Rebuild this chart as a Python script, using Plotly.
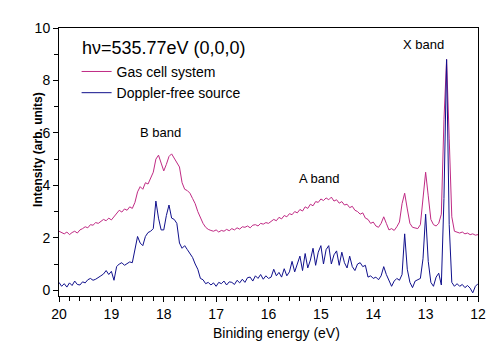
import numpy as np
import plotly.graph_objects as go

# Binding energy grid (eV), 20.00 -> 12.00 in 0.05 steps
energy = np.round(np.arange(20.0, 11.999, -0.05), 2)

gas_cell = [
    2.25, 2.20, 2.15, 2.22, 2.12, 2.20, 2.25, 2.18, 2.30, 2.35,
    2.42, 2.38, 2.50, 2.48, 2.58, 2.55, 2.62, 2.70, 2.65, 2.75,
    2.68, 2.80, 2.92, 3.05, 2.98, 3.10, 3.05, 3.18, 3.12, 3.35,
    3.75, 3.95, 3.85, 4.10, 4.05, 4.25, 4.50, 5.00, 5.15, 4.85,
    4.55, 4.80, 5.10, 5.20, 5.05, 4.90, 4.70, 4.10, 3.85, 3.80,
    3.70, 3.50, 3.30, 3.00, 2.75, 2.55, 2.40, 2.32, 2.28, 2.25,
    2.30, 2.22, 2.28, 2.25, 2.32, 2.27, 2.35, 2.30, 2.38, 2.33,
    2.42, 2.40, 2.45, 2.38, 2.48, 2.50, 2.45, 2.55, 2.52, 2.58,
    2.55, 2.62, 2.70, 2.65, 2.78, 2.72, 2.85, 2.80, 2.92, 2.88,
    3.00, 2.95, 3.08, 3.02, 3.18, 3.12, 3.28, 3.22, 3.38, 3.35,
    3.48, 3.42, 3.52, 3.45, 3.55, 3.40, 3.45, 3.32, 3.38, 3.25,
    3.28, 3.15, 3.20, 3.05, 3.00, 2.90, 2.95, 2.75, 2.70, 2.55,
    2.60, 2.45, 2.40, 2.55, 2.80, 2.55, 2.30, 2.35, 2.28, 2.42,
    2.60, 3.30, 3.70, 3.10, 2.55, 2.40, 2.38, 2.35, 2.50, 3.40,
    4.50, 3.60, 2.70, 2.50, 2.45, 2.55, 2.90, 6.50, 8.80, 5.80,
    2.80, 2.25, 2.20, 2.18, 2.22, 2.15, 2.18, 2.12, 2.15, 2.10,
    2.12,
]

doppler_free = [
    0.30, 0.15, 0.25, 0.12, 0.28, 0.18, 0.35, 0.22, 0.20, 0.32,
    0.28, 0.40, 0.45, 0.38, 0.42, 0.50, 0.55, 0.62, 0.75, 0.60,
    0.72, 0.38, 0.90, 1.00, 1.05, 0.95, 1.02, 1.08, 1.05, 1.55,
    2.05, 1.80, 1.70, 2.05, 2.20, 2.25, 2.35, 3.40, 2.75, 2.30,
    2.30, 2.85, 3.25, 2.75, 2.70, 2.55, 1.80, 1.60, 1.70, 1.55,
    1.40, 1.25, 1.00, 0.80, 0.45, 0.40, 0.25, 0.30, 0.20, 0.28,
    0.15, 0.30, 0.25, 0.35, 0.20, 0.32, 0.30, 0.22, 0.38, 0.28,
    0.42, 0.30, 0.48, 0.50, 0.35, 0.55, 0.45, 0.60, 0.42, 0.55,
    0.45, 0.50, 0.80, 0.55, 0.68, 0.50, 0.82, 0.55, 0.70, 1.10,
    0.70, 1.00, 1.30, 0.75, 1.40, 0.85, 1.15, 1.60, 0.95, 1.45,
    1.70, 1.00, 1.55, 1.70, 1.00, 1.35, 1.50, 0.95, 1.45, 1.05,
    0.85, 1.30, 0.90, 0.75, 1.00, 1.05, 0.90, 0.95, 0.50, 0.55,
    0.45, 0.50, 0.40, 0.55, 0.90, 0.60, 0.40, 0.15, 0.35, 0.45,
    0.38, 0.60, 2.15, 0.80, 0.30, 0.10, 0.35, 0.40, 0.45, 1.20,
    2.90, 1.10, 0.30, 0.15, 0.50, 0.65, 0.20, 3.50, 8.80, 2.50,
    0.30, 0.15, 0.25, 0.15, 0.22, 0.10, 0.18, 0.08, -0.10, 0.15,
    0.25,
]

x_ticks = [20, 19, 18, 17, 16, 15, 14, 13, 12]
y_ticks = [0, 2, 4, 6, 8, 10]

FONT = "Liberation Sans, Arial, sans-serif"
MAGENTA = "#C02A84"
NAVY = "#10108C"

fig = go.Figure()
fig.add_trace(go.Scatter(x=energy, y=gas_cell, mode="lines", name="Gas cell system",
                         line=dict(color=MAGENTA, width=1)))
fig.add_trace(go.Scatter(x=energy, y=doppler_free, mode="lines", name="Doppler-free source",
                         line=dict(color=NAVY, width=1)))

# page body has an 8px margin, so the figure is sized to fit the 498x359 window
fig.update_layout(
    width=490, height=351,
    margin=dict(l=51, r=19, t=14, b=63),
    paper_bgcolor="white", plot_bgcolor="white",
    font=dict(family=FONT, color="black", size=14),
    showlegend=True,
    legend=dict(x=0.042, y=0.896, xanchor="left", yanchor="top",
                bgcolor="rgba(0,0,0,0)", borderwidth=0,
                font=dict(size=14, family=FONT), itemwidth=30,
                tracegroupgap=0),
    xaxis=dict(range=[20, 12], tickvals=x_ticks, showgrid=False, zeroline=False,
               showline=True, linecolor="black", linewidth=1, mirror=True,
               ticks="outside", ticklen=5, tickcolor="black",
               minor=dict(dtick=0.2, ticks="outside", ticklen=4, tickcolor="black"),
               tickfont=dict(size=14)),
    yaxis=dict(range=[-0.22, 10.0], tickvals=y_ticks, showgrid=False, zeroline=False,
               showline=True, linecolor="black", linewidth=1, mirror=True,
               ticks="outside", ticklen=5, tickcolor="black",
               minor=dict(dtick=1, ticks="outside", ticklen=4, tickcolor="black"),
               tickfont=dict(size=14)),
    annotations=[
        dict(text="Biniding energy (eV)", xref="paper", yref="paper", x=0.519, y=-0.137,
             xanchor="center", yanchor="middle", showarrow=False, font=dict(size=14)),
        dict(text="<b>Intensity (arb. units)</b>", xref="paper", yref="paper", x=-0.052, y=0.546,
             xanchor="center", yanchor="middle", textangle=-90, showarrow=False,
             font=dict(size=12)),
        dict(text="hν=535.77eV (0,0,0)", xref="paper", yref="paper", x=0.05, y=0.927,
             xanchor="left", yanchor="middle", showarrow=False, font=dict(size=18)),
        dict(text="B band", x=18.06, y=6.03, showarrow=False, font=dict(size=13)),
        dict(text="A band", x=15.03, y=4.27, showarrow=False, font=dict(size=13)),
        dict(text="X band", x=13.04, y=9.36, showarrow=False, font=dict(size=13)),
    ],
)

fig.write_html("out.html")
